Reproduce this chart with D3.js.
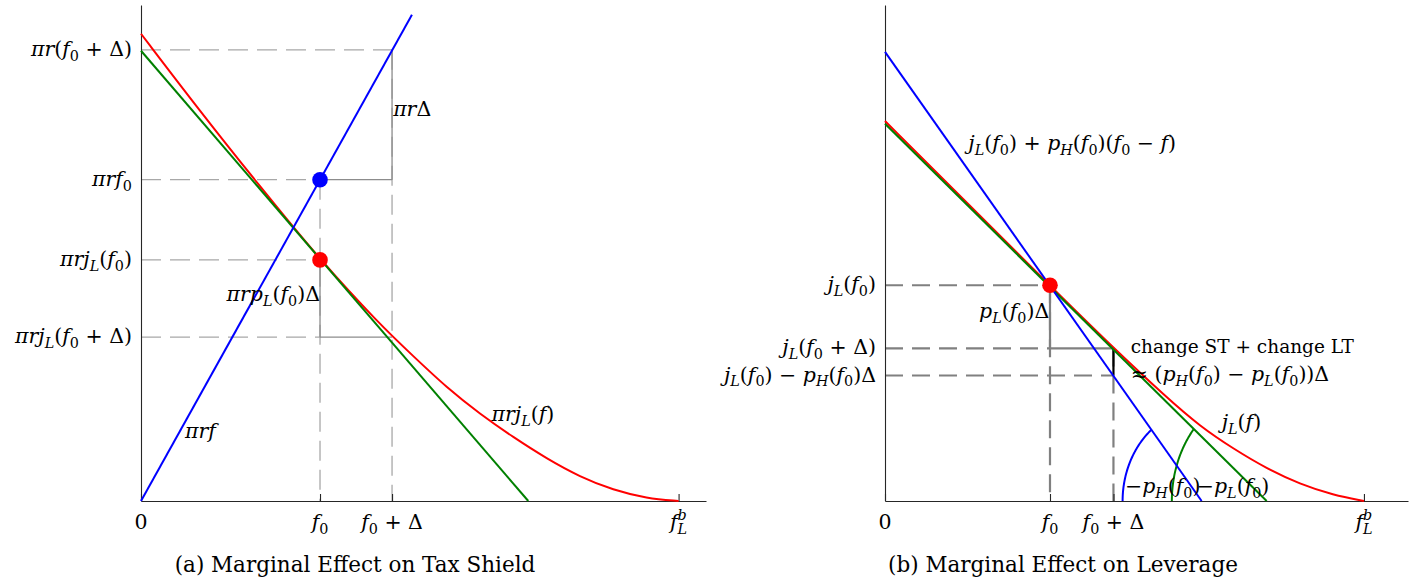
<!DOCTYPE html>
<html>
<head>
<meta charset="utf-8">
<script src="https://cdn.jsdelivr.net/npm/d3@7"></script>
<style>
  html, body { margin: 0; padding: 0; background: #fff; }
  svg text { font-family: "DejaVu Serif", serif; fill: #000; }
</style>
</head>
<body>
<svg id="chart" width="1426" height="587"></svg>
<script>
// f is scaled so that f_L^b = 1, vertical values are scaled to 0..100

// ---- panel (a): tax shield ----
const aTicks = [0, 0.333, 0.467, 1.0];
const aTickLabels = ["0", "f_0", "f_0 + Δ", "f_L^b"];
const aLevels = [91.7, 65.3, 49.0, 33.3];
const aLevelLabels = ["πr(f_0 + Δ)", "πrf_0", "πrj_L(f_0)", "πrj_L(f_0 + Δ)"];
const aRed = [[0, 94.96], [0.1097, 79.23], [0.2214, 63.91], [0.333, 48.99], [0.4446, 35.83],
  [0.5065, 29.44], [0.5686, 23.04], [0.6306, 17.68], [0.6925, 12.96], [0.7547, 8.61],
  [0.8166, 4.9], [0.8785, 2.22], [0.9407, 0.54], [1.0, 0]];
const aGreen = [[0, 91.5], [0.7204, 0]];
const aBlue = [[0, 0], [0.504, 98.8]];
const aNotes = [
  { t: "πrΔ", x: 0.469, y: 78.2, anchor: "start" },
  { t: "πrp_L(f_0)Δ", x: 0.333, y: 40.6, anchor: "end" },
  { t: "πrf", x: 0.0818, y: 12.9, anchor: "start" },
  { t: "πrj_L(f)", x: 0.652, y: 16.3, anchor: "start" }
];

// ---- panel (b): leverage ----
const bTicks = [0, 0.3445, 0.477, 1.0];
const bTickLabels = ["0", "f_0", "f_0 + Δ", "f_L^b"];
const bLevels = [43.85, 31.0, 25.5];
const bLevelLabels = ["j_L(f_0)", "j_L(f_0 + Δ)", "j_L(f_0) − p_H(f_0)Δ"];
const bRed = [[0, 77.22], [0.1712, 60.58], [0.3445, 43.75], [0.4766, 31.11], [0.5881, 21.03],
  [0.6576, 15.18], [0.7271, 10.63], [0.7969, 6.59], [0.8664, 3.43], [0.9359, 1.21], [1.0, 0]];
const bGreen = [[0, 76.67], [0.7969, 0]];
const bBlue = [[0, 91.27], [0.6611, 0]];
const bArcRadii = [[0.165, 18.75], [0.198, 22.86]]; // blue, green (rx in f, ry in value)
const bNotes = [
  { t: "j_L(f_0) + p_H(f_0)(f_0 − f)", x: 0.174, y: 71.4, anchor: "start" },
  { t: "p_L(f_0)Δ", x: 0.343, y: 37.1, anchor: "end" },
  { t: "change ST + change LT", x: 0.513, y: 30.1, anchor: "start", upright: true },
  { t: "≈ (p_H(f_0) − p_L(f_0))Δ", x: 0.513, y: 24.4, anchor: "start" },
  { t: "j_L(f)", x: 0.703, y: 14.7, anchor: "start" },
  { t: "−p_H(f_0)", x: 0.501, y: 1.6, anchor: "start" },
  { t: "−p_L(f_0)", x: 0.651, y: 1.6, anchor: "start" }
];

const captions = ["(a) Marginal Effect on Tax Shield", "(b) Marginal Effect on Leverage"];

// ---- styling ----
const fontSize = 20.5,
  plainSize = 18.5,
  axisColor = "#262626",
  dashLeft = "#a8a8a8",
  dashRight = "#808080",
  blue = "#0000ff",
  red = "#ff0000",
  green = "#008000";

const svg = d3.select("#chart");

// split "πrj_L(f_0)" into runs of italic / upright / sub / sup
function parseMath(str, upright) {
  const runs = [];
  function push(ch, level) {
    const italic = !upright && /[A-Za-zπ]/.test(ch);
    const last = runs[runs.length - 1];
    if (last && last.italic === italic && last.level === level) last.t += ch;
    else runs.push({ t: ch, italic: italic, level: level });
  }
  for (let i = 0; i < str.length; i++) {
    const ch = str[i];
    if (ch === "_" || ch === "^") {
      const level = ch === "_" ? -1 : 1;
      runs.push({ t: "", italic: false, level: 99 }); // break marker
      push(str[++i], level);
      runs.push({ t: "", italic: false, level: 99 });
    } else push(ch, 0);
  }
  return runs.filter(r => r.level !== 99);
}

function mathLabel(g, str, x, y, anchor, size, upright) {
  const t = g.append("text")
    .attr("x", x)
    .attr("y", y)
    .attr("text-anchor", anchor)
    .style("font-size", size + "px");
  let cur = 0, lastSub = null;
  parseMath(str, upright).forEach(r => {
    const target = r.level === 0 ? 0 : r.level < 0 ? size * 0.24 : -size * 0.42;
    const ts = t.append("tspan")
      .text(r.t)
      .attr("dy", target - cur)
      .style("font-style", r.italic ? "italic" : "normal")
      .style("font-size", (r.level ? size * 0.7 : size) + "px");
    if (r.level === 1 && lastSub) ts.attr("dx", -lastSub.node().getComputedTextLength());
    lastSub = r.level === -1 ? ts : null;
    cur = target;
  });
  return t;
}

function drawPanel(opt) {
  const g = svg.append("g");
  const x = d3.scaleLinear().domain([0, opt.xMax]).range(opt.xRange);
  const y = d3.scaleLinear().domain([0, 100.8]).range([501, 5]);
  const line = d3.line().x(d => x(d[0])).y(d => y(d[1]));

  function seg(p, color, width, dash) {
    g.append("path")
      .attr("d", line(p))
      .attr("fill", "none")
      .attr("stroke", color)
      .attr("stroke-width", width)
      .attr("stroke-dasharray", dash || null);
  }

  // guides
  opt.dashed.forEach(p => seg(p, opt.dashColor, opt.dashWidth, opt.dashArray));
  opt.solid.forEach(p => seg(p.pts, p.color, p.width));

  // axes
  const xAxis = d3.axisBottom(x).tickValues(opt.ticks).tickSizeInner(-7).tickSizeOuter(0).tickFormat("");
  const yAxis = d3.axisLeft(y).tickValues([]).tickSizeOuter(0);
  const ax = g.append("g").attr("transform", "translate(0,501)").call(xAxis);
  const ay = g.append("g").attr("transform", "translate(" + opt.xRange[0] + ",0)").call(yAxis);
  [ax, ay].forEach(a => {
    a.select(".domain").attr("stroke", axisColor).attr("stroke-width", 1.1);
    a.selectAll(".tick line").attr("stroke", axisColor).attr("stroke-width", 1.1);
  });

  // arcs
  (opt.arcs || []).forEach(a => {
    const x0 = a.line[1][0], m = a.line[0][1] / a.line[1][0];
    const th = Math.atan(m * a.rx / a.ry);
    const pts = d3.range(0, th, th / 60).concat([th])
      .map(t => [x0 - a.rx * Math.cos(t), a.ry * Math.sin(t)]);
    g.append("path")
      .attr("d", line(pts))
      .attr("fill", "none")
      .attr("stroke", a.color)
      .attr("stroke-width", 2);
  });

  // curves
  g.append("path")
    .attr("d", d3.line().x(d => x(d[0])).y(d => y(d[1])).curve(d3.curveBasis)(opt.red))
    .attr("fill", "none").attr("stroke", red).attr("stroke-width", 2);
  seg(opt.green, green, 2);
  seg(opt.blue, blue, 2);

  // dots
  opt.dots.forEach(d => {
    g.append("circle")
      .attr("cx", x(d.x)).attr("cy", y(d.y)).attr("r", 7.8)
      .attr("fill", d.color);
  });

  // tick labels
  opt.ticks.forEach((t, i) => mathLabel(g, opt.tickLabels[i], x(t), 529, "middle", fontSize));
  opt.levels.forEach((l, i) => mathLabel(g, opt.levelLabels[i], opt.xRange[0] - 9, y(l) + 6, "end", fontSize));

  // notes
  opt.notes.forEach(n => mathLabel(g, n.t, x(n.x), y(n.y), n.anchor, n.upright ? plainSize : fontSize, n.upright));

  // caption
  g.append("text")
    .attr("x", opt.captionX)
    .attr("y", 572)
    .attr("text-anchor", "middle")
    .style("font-size", "21.5px")
    .text(opt.caption);
}

// panel (a) guides
const [, af0, afD] = aTicks;
const [aL0, aL1, aL2, aL3] = aLevels;
drawPanel({
  xRange: [141, 706], xMax: 1.051,
  ticks: aTicks, tickLabels: aTickLabels,
  levels: aLevels, levelLabels: aLevelLabels,
  red: aRed, green: aGreen, blue: aBlue,
  dashColor: dashLeft, dashWidth: 1.3, dashArray: "20,9",
  dashed: [
    [[0, aL0], [afD, aL0]], [[0, aL1], [af0, aL1]], [[0, aL2], [af0, aL2]], [[0, aL3], [af0, aL3]],
    [[af0, aL1], [af0, 0]], [[afD, aL0], [afD, 0]]
  ],
  solid: [
    { pts: [[afD, aL0], [afD, aL1]], color: "#8c8c8c", width: 1.3 },
    { pts: [[af0, aL1], [afD, aL1]], color: "#8c8c8c", width: 1.3 },
    { pts: [[af0, aL2], [af0, aL3]], color: "#8c8c8c", width: 1.3 },
    { pts: [[af0, aL3], [afD, aL3]], color: "#8c8c8c", width: 1.3 }
  ],
  dots: [{ x: af0, y: aL1, color: blue }, { x: af0, y: aL2, color: red }],
  notes: aNotes,
  caption: captions[0], captionX: 355
});

// panel (b) guides
const [, bf0, bfD] = bTicks;
const [bL0, bL1, bL2] = bLevels;
drawPanel({
  xRange: [885, 1408], xMax: 1.092,
  ticks: bTicks, tickLabels: bTickLabels,
  levels: bLevels, levelLabels: bLevelLabels,
  red: bRed, green: bGreen, blue: bBlue,
  dashColor: dashRight, dashWidth: 2.2, dashArray: "18,9",
  dashed: [
    [[0, bL0], [bf0, bL0]], [[0, bL1], [bf0, bL1]], [[0, bL2], [bfD, bL2]],
    [[bf0, bL0], [bf0, 0]], [[bfD, bL1], [bfD, 0]]
  ],
  solid: [
    { pts: [[bf0, bL0], [bf0, bL1]], color: dashRight, width: 2.2 },
    { pts: [[bf0, bL1], [bfD, bL1]], color: dashRight, width: 2.2 },
    { pts: [[bfD, bL1], [bfD, bL2]], color: "#000", width: 2.2 }
  ],
  arcs: [
    { line: bBlue, rx: bArcRadii[0][0], ry: bArcRadii[0][1], color: blue },
    { line: bGreen, rx: bArcRadii[1][0], ry: bArcRadii[1][1], color: green }
  ],
  dots: [{ x: bf0, y: bL0, color: red }],
  notes: bNotes,
  caption: captions[1], captionX: 1063
});
</script>
</body>
</html>
